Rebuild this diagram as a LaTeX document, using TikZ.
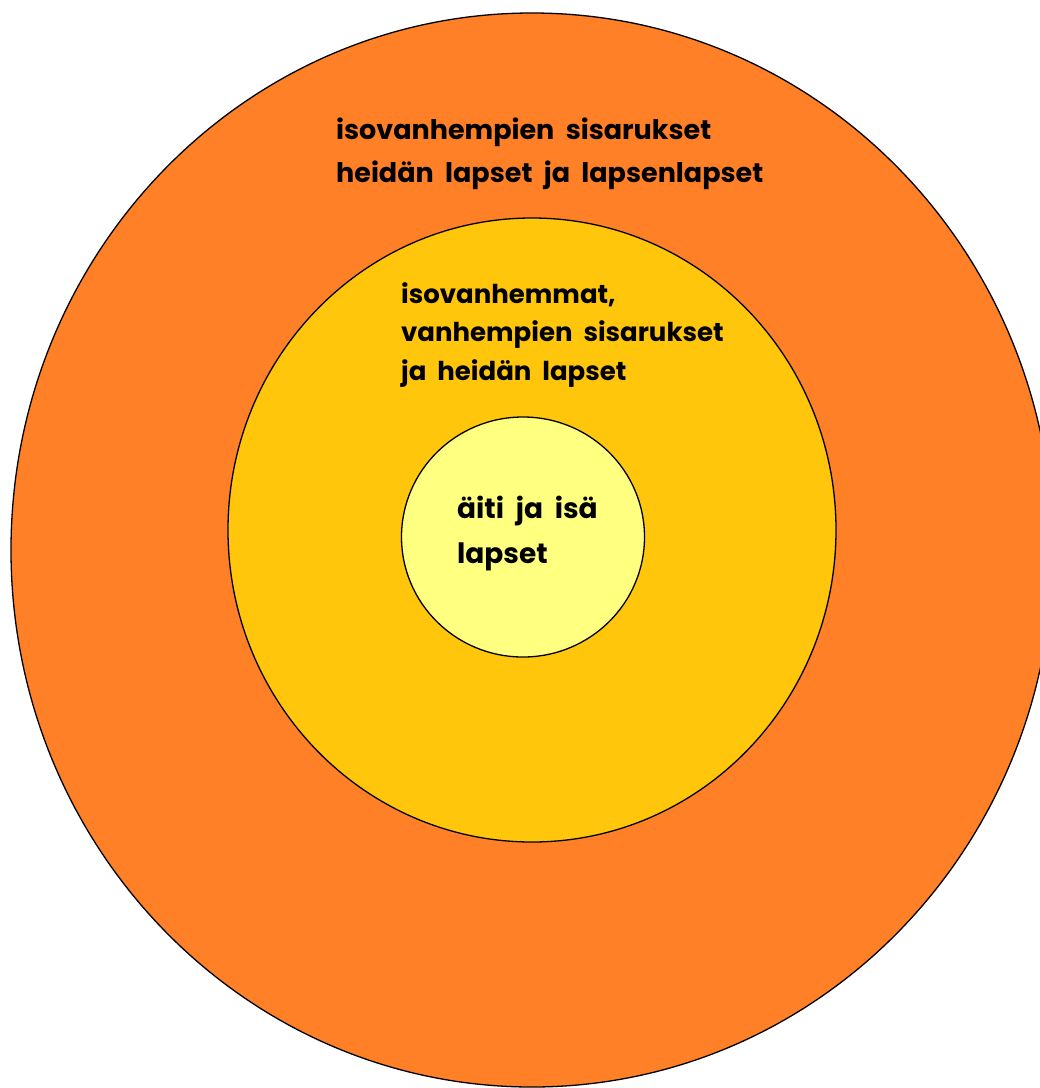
\documentclass[tikz,border=0pt]{standalone}
\usepackage{fontspec}
\setmainfont{Poppins}
\definecolor{outerorange}{RGB}{255,128,38}
\definecolor{midyellow}{RGB}{255,198,12}
\definecolor{innerpale}{RGB}{255,255,128}
\tikzset{
  ring/.style={draw=black, line width=1.3pt},
  lbl/.style={anchor=base west, align=left, inner sep=0pt, text=black},
}
\newcommand{\lblfont}[2]{\fontsize{#1}{#2}\selectfont\bfseries\spaceskip=0.42em plus 0.1em\relax}
\begin{document}
\begin{tikzpicture}[x=1pt,y=-1pt]
\useasboundingbox (0,0) rectangle (1040,1088);
\clip (0,0) rectangle (1040,1088);
\path[ring, fill=outerorange] (532,550) ellipse [x radius=521, y radius=537];
\path[ring, fill=midyellow] (532,530) ellipse [x radius=304, y radius=312];
\path[ring, fill=innerpale] (523,537) ellipse [x radius=121.5, y radius=120];
\node[lbl, font=\lblfont{27}{43}] (outertext) at (336,182) {isovanhempien sisarukset\\heidän lapset ja lapsenlapset};
\node[lbl, font=\lblfont{26}{38.5}] (midtext) at (401,380) {isovanhemmat,\\vanhempien sisarukset\\ja heidän lapset};
\node[lbl, font=\lblfont{28}{45}] (innertext) at (457,563) {äiti ja isä\\lapset};
\end{tikzpicture}
\end{document}
